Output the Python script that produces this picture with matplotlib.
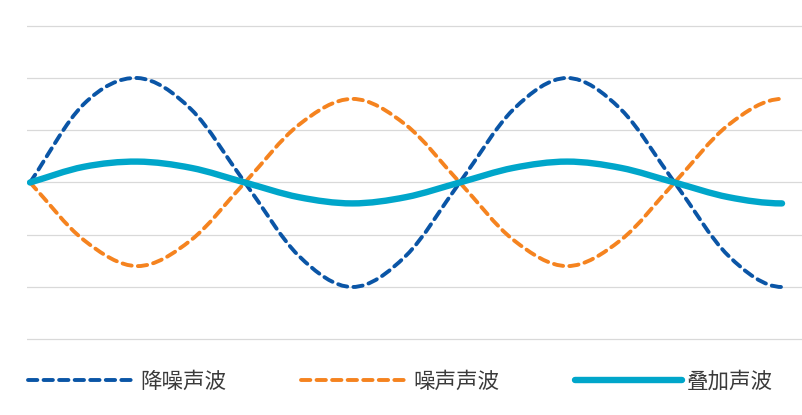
import matplotlib.pyplot as plt
import numpy as np
from matplotlib.path import Path
from matplotlib.patches import PathPatch
from matplotlib.lines import Line2D

plt.rcParams['font.family'] = ['Noto Sans CJK SC', 'DejaVu Sans']

# values at every half step (smoothed lines through them)
points = [0, 0.5, 1, 1.5, 2, 2.5, 3, 3.5, 4, 4.5, 5, 5.5, 6, 6.5, 7]
anti_noise = [0, 1.5, 2, 1.4, 0, -1.4, -2, -1.4, 0, 1.4, 2, 1.4, 0, -1.4, -2]
noise = [0, -1.1, -1.6, -1.1, 0, 1.1, 1.6, 1.1, 0, -1.1, -1.6, -1.1, 0, 1.1, 1.6]
combined = [0, 0.3, 0.4, 0.28, 0, -0.28, -0.4, -0.28, 0, 0.28, 0.4, 0.28, 0, -0.28, -0.4]
labels = ['降噪声波', '噪声声波', '叠加声波']
colors = ['#0A55A6', '#F5831F', '#00A6CA']


def smooth_path(xs, ys):
    # catmull-rom style bezier through the points
    p = np.column_stack([xs, ys]).astype(float)
    # ghost points: pass straight through the start, level out at the end
    start = 2 * p[0] - p[1]
    end = np.array([2 * p[-1][0] - p[-2][0], p[-2][1]])
    q = np.vstack([start, p, end])
    verts = [p[0]]
    codes = [Path.MOVETO]
    for i in range(1, len(q) - 2):
        c1 = q[i] + (q[i + 1] - q[i - 1]) / 6
        c2 = q[i + 1] - (q[i + 2] - q[i]) / 6
        verts += [c1, c2, q[i + 1]]
        codes += [Path.CURVE4] * 3
    return Path(verts, codes)


fig = plt.figure(figsize=(8.02, 4.15), dpi=100)
ax = fig.add_axes([27 / 802, 70 / 415, 775 / 802, 325 / 415])
ax.set_xlim(-0.028, 7.186)
ax.set_ylim(-3.11, 3.11)

for yv in range(-3, 4):
    ax.axhline(yv, color='#D9D9D9', linewidth=0.9, zorder=0)

dash = (2.4, 1.6)
styles = [
    dict(linewidth=2.8, linestyle=(0, dash)),
    dict(linewidth=2.8, linestyle=(0, dash)),
    dict(linewidth=4.6, linestyle='-'),
]
handles = []
for ys, col, lab, st in zip([anti_noise, noise, combined], colors, labels, styles):
    patch = PathPatch(smooth_path(points, ys), fill=False, edgecolor=col,
                      linewidth=st['linewidth'], linestyle=st['linestyle'],
                      capstyle='round', joinstyle='round')
    ax.add_patch(patch)
    handles.append(Line2D([], [], color=col, linewidth=st['linewidth'],
                          linestyle=st['linestyle'], solid_capstyle='round',
                          dash_capstyle='round', label=lab))

ax.axis('off')

leg = fig.legend(handles=handles, loc='center left', bbox_to_anchor=(28 / 802, 1 - 382 / 415),
                 ncol=3, frameon=False, prop={'size': 15.5, 'weight': 'light'},
                 handlelength=5.0, handletextpad=0.2, columnspacing=3.5,
                 borderaxespad=0, borderpad=0)
for t in leg.get_texts():
    t.set_color('#3A3A3A')

fig.savefig('out.png', dpi=100, facecolor='white')
